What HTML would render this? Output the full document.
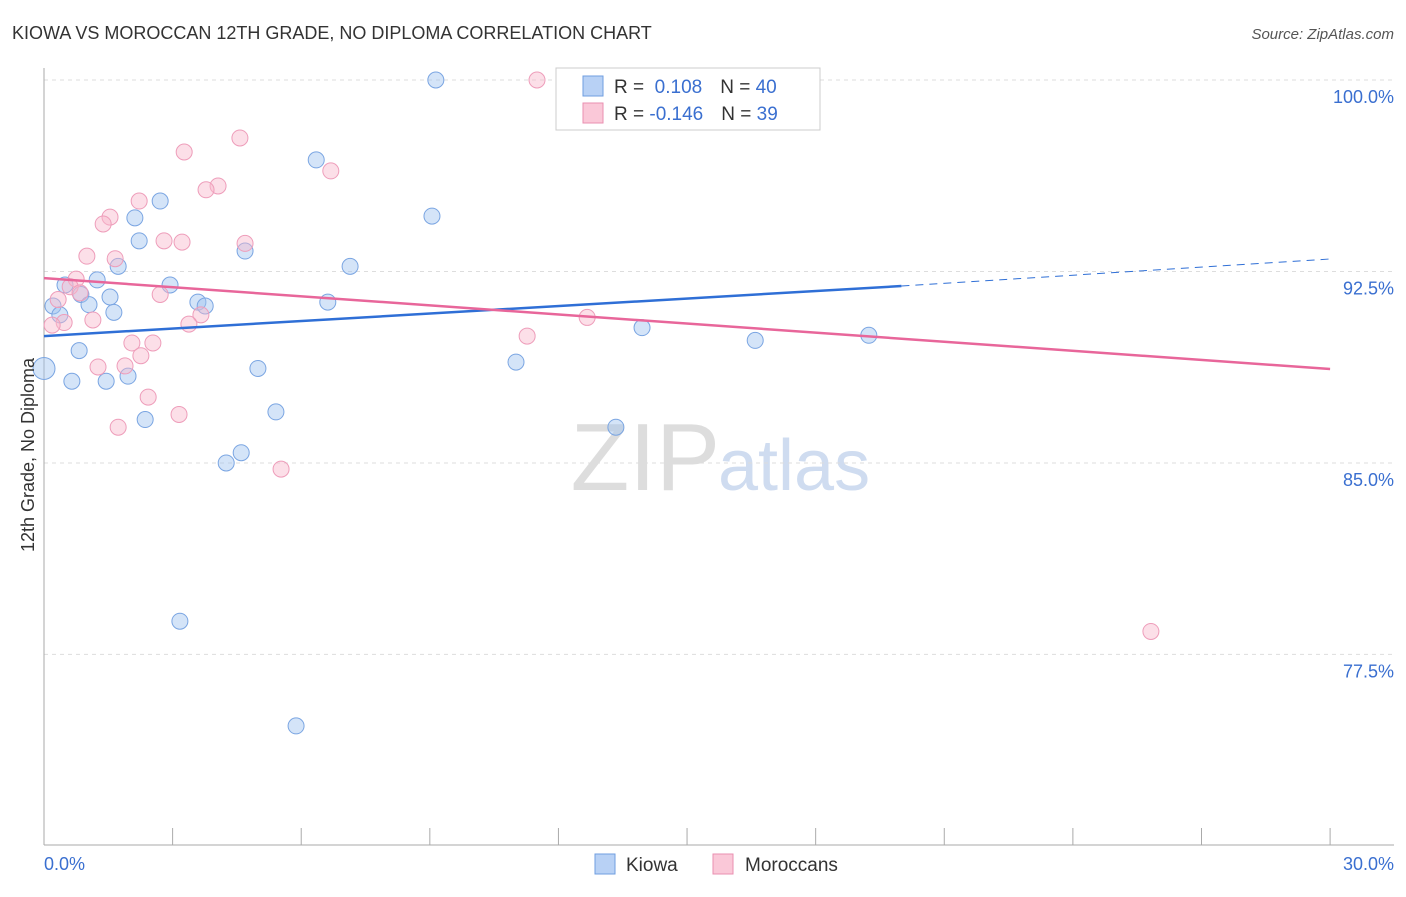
<!DOCTYPE html>
<html><head><meta charset="utf-8"><style>
body{margin:0;background:#fff;font-family:"Liberation Sans",sans-serif}
svg text{font-family:"Liberation Sans",sans-serif}
</style></head><body>
<svg id="c" width="1406" height="892" viewBox="0 0 1406 892">
<text x="12" y="39" font-size="18" fill="#333">KIOWA VS MOROCCAN 12TH GRADE, NO DIPLOMA CORRELATION CHART</text>
<text x="1394" y="39" font-size="15" fill="#555" font-style="italic" text-anchor="end">Source: ZipAtlas.com</text>
<text x="720" y="490" font-size="96" fill="#ddd" text-anchor="end" font-family="Liberation Serif">ZIP</text>
<text x="718" y="490" font-size="72" fill="#cfdcf0">atlas</text>
<g id="grid"></g><g id="marks"></g>
<text transform="translate(34,455) rotate(-90)" font-size="18" fill="#333" text-anchor="middle">12th Grade, No Diploma</text>
<text x="44" y="870" font-size="18" fill="#3a6fd0">0.0%</text>
<text x="1394" y="870" font-size="18" fill="#3a6fd0" text-anchor="end">30.0%</text>
<g>
<rect x="556" y="68" width="264" height="62" fill="#fff" stroke="#ccc"/>
<rect x="583" y="76" width="20" height="20" fill="#b8d1f5" stroke="#6f9ee0"/>
<rect x="583" y="103" width="20" height="20" fill="#fac8d8" stroke="#ea8fb0"/>
<text x="614" y="93" font-size="19" fill="#333">R = <tspan fill="#3a6fd0">&#160;0.108</tspan><tspan dx="18">N = </tspan><tspan fill="#3a6fd0">40</tspan></text>
<text x="614" y="120" font-size="19" fill="#333">R = <tspan fill="#3a6fd0">-0.146</tspan><tspan dx="18">N = </tspan><tspan fill="#3a6fd0">39</tspan></text>
</g>
<g>
<rect x="595" y="854" width="20" height="20" fill="#b8d1f5" stroke="#6f9ee0"/>
<text x="626" y="871" font-size="19" fill="#333">Kiowa</text>
<rect x="713" y="854" width="20" height="20" fill="#fac8d8" stroke="#ea8fb0"/>
<text x="745" y="871" font-size="19" fill="#333">Moroccans</text>
</g>
</svg>
<script>
const yTicks=[100,92.5,85,77.5];
const yTickLabels=["100.0%","92.5%","85.0%","77.5%"];
const kiowaX=[9.14,16.17,6.35,2.71,9.05,2.12,2.22,4.69,1.73,7.14,0.49,1.24,2.94,0.86,1.54,0.21,1.05,3.59,3.76,6.62,0.37,1.63,13.95,16.59,19.24,0.82,0,11.01,4.99,0.65,1.45,1.96,5.41,2.36,13.34,4.6,4.25,3.17,5.88];
const kiowaY=[100,100,96.87,95.26,94.67,94.6,93.7,93.3,92.7,92.7,91.97,92.17,91.97,91.6,91.5,91.15,91.2,91.3,91.15,91.3,90.8,90.9,90.3,89.8,90.0,89.4,88.7,88.95,88.7,88.2,88.2,88.4,87.0,86.7,86.4,85.4,85.0,78.8,74.7];
const morX=[11.5,15.93,4.57,3.27,6.69,4.06,3.78,2.22,1.54,1.38,4.69,2.8,3.22,1.0,1.66,0.75,0.61,0.84,2.71,0.33,1.14,3.66,3.38,12.67,11.27,0.47,0.19,2.05,2.54,2.26,1.26,1.89,2.43,3.15,1.73,5.53,25.82];
const morY=[100,100,97.73,97.18,96.44,95.85,95.7,95.26,94.63,94.36,93.6,93.7,93.65,93.1,93.0,92.2,91.9,91.66,91.6,91.4,90.6,90.8,90.44,90.7,89.97,90.5,90.4,89.7,89.7,89.2,88.76,88.8,87.58,86.9,86.4,84.76,78.4];
const kiowaTrend=[89.97,91.93,92.99];
const morTrend=[92.24,88.68];
const NS="http://www.w3.org/2000/svg";
const X=v=>44+v*42.87, Y=v=>80+(100-v)*25.53;
const grid=document.getElementById('grid'), marks=document.getElementById('marks');
function mk(tag,attrs,parent){const e=document.createElementNS(NS,tag);for(const k in attrs)e.setAttribute(k,attrs[k]);parent.appendChild(e);return e;}
yTicks.forEach((t,i)=>{
 const l=mk('line',{x1:44,x2:1394,y1:Y(t),y2:Y(t),stroke:'#ddd','stroke-dasharray':'4,4'},grid);
 
 
 const tx=mk('text',{x:1394,y:Y(t)+23,'font-size':18,fill:'#3a6fd0','text-anchor':'end'},grid);
 tx.textContent=yTickLabels[i];
 
 
});
const ax=mk('line',{x1:44,x2:44,y1:68,y2:845,stroke:'#aaa'},grid);


const bx=mk('line',{x1:44,x2:1394,y1:845,y2:845,stroke:'#aaa'},grid);


for(let i=0;i<=10;i++){
 const t=mk('line',{x1:X(i*3),x2:X(i*3),y1:828,y2:845,stroke:'#aaa'},grid);
 
 
}
kiowaX.forEach((x,i)=>{
 const c=mk('circle',{cx:X(x),cy:Y(kiowaY[i]),r:x===0?11:8,fill:'rgba(160,195,240,0.45)',stroke:'#7aa5e2','stroke-width':1},marks);
 
 
});
morX.forEach((x,i)=>{
 const c=mk('circle',{cx:X(x),cy:Y(morY[i]),r:8,fill:'rgba(248,185,205,0.45)',stroke:'#ee9dba','stroke-width':1},marks);
 
 
});
const kl=mk('line',{x1:X(0),y1:Y(kiowaTrend[0]),x2:X(20),y2:Y(kiowaTrend[1]),stroke:'#2f6fd6','stroke-width':2.5},marks);


const kd=mk('line',{x1:X(20),y1:Y(kiowaTrend[1]),x2:X(30),y2:Y(kiowaTrend[2]),stroke:'#2f6fd6','stroke-width':1,'stroke-dasharray':'8,6'},marks);


const ml=mk('line',{x1:X(0),y1:Y(morTrend[0]),x2:X(30),y2:Y(morTrend[1]),stroke:'#e8669a','stroke-width':2.5},marks);


</script>
</body></html>
